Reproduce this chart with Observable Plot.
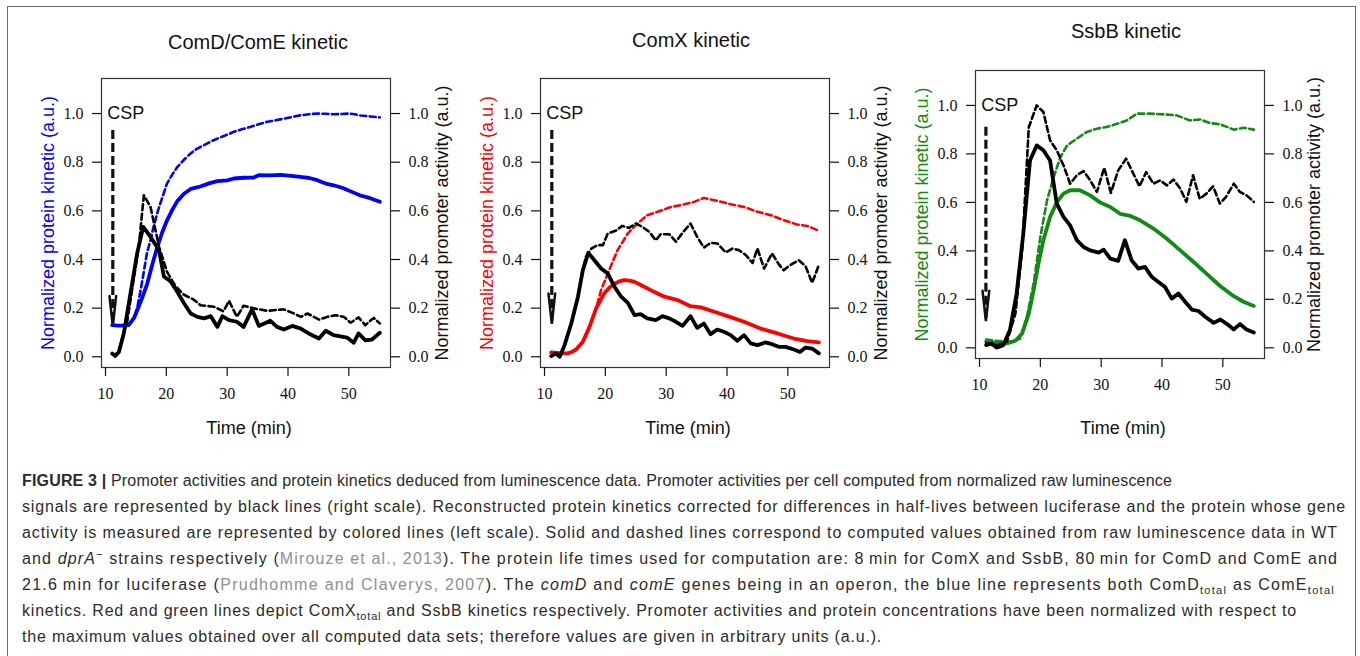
<!DOCTYPE html>
<html><head><meta charset="utf-8">
<script src="https://cdn.jsdelivr.net/npm/d3@7"></script>
<script src="https://cdn.jsdelivr.net/npm/@observablehq/plot@0.6"></script>
<style>
body{margin:0;background:#fff;width:1360px;height:656px;overflow:hidden;position:relative;font-family:"Liberation Sans",Arial,sans-serif;}
#frame{position:absolute;left:7px;top:6px;width:1349px;height:720px;border:1.5px solid #6a6a6a;box-sizing:border-box;}
.title{position:absolute;font-size:20px;color:#111;transform:translate(-50%,-50%);white-space:nowrap;}
.panel{position:absolute;}
#caption{position:absolute;left:22px;top:468px;font-size:16px;line-height:26px;color:#2b2b2b;}
#caption div{white-space:nowrap;height:26px;width:max-content;}
.ref{color:#8f8f8f;}
sub,sup{font-size:11px;line-height:0;}
</style></head><body>
<div id="frame"></div>
<div id="root"></div>
<div id="caption">
<div><b>FIGURE 3 |</b> Promoter activities and protein kinetics deduced from luminescence data. Promoter activities per cell computed from normalized raw luminescence</div>
<div>signals are represented by black lines (right scale). Reconstructed protein kinetics corrected for differences in half-lives between luciferase and the protein whose gene</div>
<div>activity is measured are represented by colored lines (left scale). Solid and dashed lines correspond to computed values obtained from raw luminescence data in WT</div>
<div>and <i>dprA</i><sup>−</sup> strains respectively (<span class="ref">Mirouze et al., 2013</span>). The protein life times used for computation are: 8&#8201;min for ComX and SsbB, 80&#8201;min for ComD and ComE and</div>
<div>21.6&#8201;min for luciferase (<span class="ref">Prudhomme and Claverys, 2007</span>). The <i>comD</i> and <i>comE</i> genes being in an operon, the blue line represents both ComD<sub>total</sub> as ComE<sub>total</sub></div>
<div>kinetics. Red and green lines depict ComX<sub>total</sub> and SsbB kinetics respectively. Promoter activities and protein concentrations have been normalized with respect to</div>
<div>the maximum values obtained over all computed data sets; therefore values are given in arbitrary units (a.u.).</div>
</div>
<script>
// ---------- data ([time (min), value]) ----------
const panelTitles = ["ComD/ComE kinetic", "ComX kinetic", "SsbB kinetic"];
const proteinColors = ["#0000ff", "#ff0000", "#138a13"];
const xTicks = [10, 20, 30, 40, 50];
const yTicks = [0, 0.2, 0.4, 0.6, 0.8, 1.0];
const leftLabel = "Normalized protein kinetic (a.u.)";
const rightLabel = "Normalized promoter activity (a.u.)";
const xLabel = "Time (min)";
const cspText = "CSP";

// ComD/ComE panel
const comD_protein_WT = [[11.1,0.13],[12,0.128],[13,0.128],[13.8,0.13],[14.7,0.16],[15.2,0.19],[16,0.24],[16.85,0.30],[17.7,0.38],[18.5,0.45],[19.3,0.51],[20.1,0.56],[21,0.605],[21.8,0.64],[22.9,0.67],[24,0.69],[25.6,0.70],[27,0.713],[28.4,0.722],[30,0.725],[31.1,0.733],[32.7,0.736],[34.4,0.737],[35.2,0.747],[37,0.746],[38.8,0.748],[40.5,0.744],[42,0.74],[43.5,0.735],[44.8,0.726],[46.2,0.712],[47.5,0.705],[49,0.694],[50.3,0.68],[51.9,0.663],[53.5,0.652],[55.1,0.637]];
const comD_protein_dprA = [[11.1,0.13],[12,0.128],[13,0.128],[13.8,0.13],[14.7,0.16],[15.2,0.2],[15.75,0.27],[16.3,0.35],[16.8,0.425],[17.4,0.48],[17.9,0.534],[18.5,0.59],[19,0.63],[20.1,0.712],[21,0.75],[21.8,0.78],[22.9,0.81],[24,0.836],[25,0.855],[26.2,0.87],[27.3,0.885],[28.4,0.897],[29.7,0.91],[31.1,0.925],[32.4,0.935],[33.8,0.945],[35.2,0.956],[36.6,0.966],[38,0.972],[39.3,0.979],[40.7,0.986],[42.1,0.993],[43.5,0.997],[44.8,1.0],[46.2,0.999],[47.5,0.997],[48.8,0.998],[50,1.0],[51,0.997],[51.9,0.992],[53.5,0.988],[55.1,0.984]];
const comD_promoter_WT = [[11.1,0.014],[11.6,0.003],[12.2,0.02],[13,0.096],[14.1,0.26],[15.2,0.425],[16.2,0.534],[17.4,0.493],[18.8,0.438],[19.6,0.33],[20.7,0.31],[21.8,0.267],[22.9,0.22],[24,0.178],[25.1,0.164],[26.2,0.158],[27.3,0.167],[28.4,0.123],[29.2,0.167],[30.3,0.151],[31.6,0.144],[32.7,0.123],[34.1,0.195],[35.2,0.127],[37.1,0.148],[38.2,0.123],[39.3,0.112],[40.7,0.127],[42.1,0.116],[43.4,0.096],[45.1,0.075],[46.2,0.107],[47.5,0.089],[49.7,0.079],[50.8,0.058],[51.6,0.096],[52.7,0.068],[53.8,0.071],[55.1,0.099]];
const comD_promoter_dprA = [[11.1,0.01],[11.6,0.005],[12.2,0.027],[13.6,0.15],[14.7,0.33],[15.5,0.46],[16.3,0.664],[17.4,0.616],[18.8,0.452],[20.1,0.35],[21.5,0.29],[22.9,0.255],[24.5,0.235],[25.6,0.212],[27.8,0.206],[29.4,0.187],[30.3,0.23],[31.6,0.164],[32.7,0.21],[34.4,0.199],[36.6,0.189],[39.3,0.195],[41,0.178],[42.1,0.164],[43.2,0.178],[45.1,0.153],[46.4,0.164],[47.8,0.171],[49.2,0.164],[50.3,0.14],[51.6,0.162],[52.7,0.13],[54.1,0.16],[55.1,0.137]];

// ComX panel
const comX_protein_WT = [[11.1,0.018],[12,0.016],[13,0.014],[13.8,0.014],[14.5,0.02],[15.2,0.03],[16.3,0.062],[17.4,0.123],[18.5,0.2],[19.8,0.26],[20.7,0.285],[21.5,0.30],[22.3,0.31],[23.1,0.315],[24,0.313],[24.8,0.308],[26.4,0.288],[28,0.267],[29.7,0.247],[31.9,0.233],[34,0.208],[35.7,0.203],[37.9,0.185],[40.1,0.167],[42.8,0.144],[45.5,0.116],[48.3,0.096],[51,0.075],[53.2,0.064],[55.1,0.059]];
const comX_protein_dprA = [[11.1,0.018],[12,0.016],[13,0.014],[13.8,0.014],[14.5,0.02],[15.2,0.03],[16.3,0.062],[17.4,0.123],[18.5,0.2],[19.3,0.274],[20.4,0.342],[22,0.438],[23.7,0.507],[25.3,0.548],[26.9,0.582],[28.6,0.596],[30.8,0.616],[32.4,0.623],[34.6,0.637],[36.2,0.653],[38.4,0.641],[40.6,0.627],[42.8,0.616],[45,0.596],[47.2,0.582],[49.3,0.562],[51.5,0.544],[53.2,0.538],[55.1,0.518]];
const comX_promoter_WT = [[11.1,0.003],[11.9,0.014],[12.5,0.0],[13.3,0.048],[14.4,0.137],[15.5,0.247],[16.3,0.356],[17.2,0.427],[18.2,0.397],[19.3,0.363],[20.4,0.342],[21.5,0.288],[22.6,0.247],[23.7,0.222],[24.8,0.171],[25.8,0.175],[26.9,0.158],[28.3,0.151],[29.4,0.167],[30.5,0.158],[31.6,0.144],[32.7,0.127],[34,0.167],[35.1,0.119],[36.2,0.137],[37.3,0.093],[38.4,0.112],[39.5,0.103],[40.6,0.089],[41.7,0.066],[42.8,0.089],[43.9,0.055],[45,0.048],[46.3,0.059],[47.4,0.052],[48.5,0.041],[49.6,0.041],[51,0.03],[52,0.02],[52.9,0.038],[54,0.034],[55.1,0.014]];
const comX_promoter_dprA = [[11.1,0.003],[11.9,0.014],[12.5,0.0],[13.3,0.048],[14.4,0.137],[15.5,0.247],[16.3,0.356],[16.8,0.41],[17.7,0.445],[18.7,0.459],[19.6,0.459],[20.4,0.507],[21.7,0.518],[22.8,0.538],[23.9,0.53],[25,0.548],[26.1,0.534],[27.2,0.514],[28.3,0.479],[29.1,0.504],[30.5,0.504],[31.6,0.473],[32.7,0.51],[34,0.548],[35.1,0.493],[36.2,0.449],[37.3,0.468],[38.4,0.466],[39.8,0.429],[40.9,0.445],[42,0.438],[43.1,0.418],[44.2,0.386],[45,0.445],[46.1,0.363],[47.4,0.425],[48.5,0.381],[49.3,0.356],[50.4,0.377],[51.8,0.397],[52.9,0.373],[54,0.304],[55.1,0.377]];

// SsbB panel
const ssbB_protein_WT = [[11.1,0.027],[12,0.022],[12.8,0.018],[14.5,0.018],[15.9,0.029],[17,0.059],[18.1,0.141],[18.9,0.238],[19.7,0.348],[20.5,0.444],[21.6,0.54],[22.7,0.6],[23.8,0.636],[24.9,0.65],[26.5,0.65],[28.2,0.629],[29.8,0.6],[31.5,0.581],[33.1,0.553],[34.8,0.544],[36.4,0.526],[38.6,0.492],[40.8,0.45],[43,0.402],[45.2,0.354],[47.4,0.304],[49.6,0.254],[51.8,0.213],[53.4,0.19],[55.1,0.173]];
const ssbB_protein_dprA = [[11.1,0.034],[12.8,0.029],[15,0.025],[16.7,0.038],[17.8,0.128],[18.9,0.265],[20,0.457],[21.1,0.608],[22.2,0.705],[23.3,0.787],[24.4,0.835],[26,0.863],[27.6,0.89],[29.3,0.904],[30.9,0.911],[32.6,0.924],[34.2,0.938],[35.9,0.966],[38.1,0.966],[40.2,0.963],[42.4,0.959],[44.6,0.938],[46.3,0.942],[47.9,0.927],[49.6,0.922],[51.8,0.9],[53.4,0.908],[55.1,0.9]];
const ssbB_promoter_WT = [[11.1,0.011],[12,0.018],[12.8,0.001],[13.9,0.011],[15,0.073],[16.1,0.224],[17.2,0.471],[18.3,0.773],[19.4,0.835],[20.5,0.815],[21.6,0.773],[22.7,0.595],[23.8,0.54],[24.9,0.505],[26,0.444],[27.1,0.416],[28.2,0.402],[29.6,0.393],[30.4,0.405],[31.5,0.368],[32.8,0.359],[33.9,0.444],[35,0.361],[36.1,0.327],[37.2,0.334],[38.3,0.293],[39.4,0.272],[40.5,0.251],[41.6,0.203],[42.7,0.224],[43.8,0.19],[44.9,0.158],[46,0.152],[47.1,0.128],[48.5,0.103],[49.6,0.117],[50.7,0.098],[51.8,0.076],[52.8,0.098],[53.9,0.076],[55.1,0.063]];
const ssbB_promoter_dprA = [[11.1,0.02],[12,0.012],[12.8,0.011],[14.5,0.025],[15.9,0.141],[17,0.402],[18.1,0.91],[19.4,1.0],[20.5,0.973],[21.6,0.856],[22.7,0.815],[23.8,0.753],[24.9,0.677],[26,0.712],[27.1,0.729],[28.2,0.691],[29.3,0.643],[30.5,0.743],[31.6,0.639],[32.8,0.732],[34.1,0.78],[35.3,0.718],[36.3,0.666],[37.4,0.725],[38.6,0.677],[39.7,0.691],[40.8,0.67],[41.9,0.694],[43,0.657],[44,0.602],[45.1,0.712],[46.2,0.615],[47.3,0.636],[48.4,0.666],[49.5,0.595],[50.5,0.622],[51.8,0.677],[52.8,0.643],[53.9,0.629],[55.1,0.602]];

// CSP arrow annotation: time, top of shaft, tip
const cspTime = [11.2, 11.2, 11.05];
const cspTop = [0.93, 0.93, 0.91];
const cspTip = [0.125, 0.135, 0.11];
const cspLabelX = 10.3, cspLabelY = 1.0;

// caption line right ends (px)
const captionEnds = [1172, 1346, 1338, 1338, 1335, 1297, 882];

// ---------- layout ----------
const xDomain = [9.34, 56.85], yDomain = [-0.044, 1.144];
const layouts = [
  {left: 0, top: 50, width: 465, height: 397, ml: 101, mr: 75, mt: 28, mb: 80, timeDy: 66, rdx: 52, tx: 258, ty: 42},
  {left: 465, top: 50, width: 440, height: 397, ml: 75, mr: 76, mt: 28, mb: 80, timeDy: 66, rdx: 52, tx: 691, ty: 40},
  {left: 905, top: 50, width: 455, height: 388, ml: 70, mr: 96, mt: 20, mb: 80, timeDy: 75, rdx: 50, tx: 1126, ty: 31}
];
const panelData = [
  [comD_protein_WT, comD_protein_dprA, comD_promoter_WT, comD_promoter_dprA],
  [comX_protein_WT, comX_protein_dprA, comX_promoter_WT, comX_promoter_dprA],
  [ssbB_protein_WT, ssbB_protein_dprA, ssbB_promoter_WT, ssbB_promoter_dprA]
];

const sans = "Liberation Sans, Arial, sans-serif";
const root = document.getElementById("root");
const headLen = 0.125, headHalf = 0.55;

layouts.forEach((L, i) => {
  const [pWT, pD, aWT, aD] = panelData[i];
  const color = proteinColors[i];
  const t = cspTime[i], tip = cspTip[i];
  const head = [[t - headHalf, tip + headLen], [t, tip], [t + headHalf, tip + headLen]];
  const lineOpts = {x: d => d[0], y: d => d[1], strokeLinejoin: "round"};
  const chart = Plot.plot({
    width: L.width, height: L.height,
    marginLeft: L.ml, marginRight: L.mr, marginTop: L.mt, marginBottom: L.mb,
    style: {background: "transparent", overflow: "visible", fontFamily: "Liberation Serif, serif", fontSize: "16px", color: "#111"},
    x: {domain: xDomain},
    y: {domain: yDomain},
    marks: [
      Plot.frame({stroke: "#333", strokeWidth: 1.2}),
      Plot.axisX({ticks: xTicks, tickSize: 9, tickPadding: 11, tickFormat: d => String(d), label: null, strokeWidth: 1.2}),
      Plot.axisY({anchor: "left", ticks: yTicks, tickSize: 9, tickPadding: 9, tickFormat: d3.format(".1f"), label: null, strokeWidth: 1.2}),
      Plot.axisY({anchor: "right", ticks: yTicks, tickSize: 9, tickPadding: 9, tickFormat: d3.format(".1f"), label: null, strokeWidth: 1.2}),
      Plot.text([leftLabel], {text: d => d, frameAnchor: "left", textAnchor: "middle", lineAnchor: "middle", dx: -53, rotate: -90, fill: color, fontSize: 18, fontFamily: sans}),
      Plot.text([rightLabel], {text: d => d, frameAnchor: "right", textAnchor: "middle", lineAnchor: "middle", dx: L.rdx, rotate: -90, fill: "#111", fontSize: 18, fontFamily: sans}),
      Plot.text([xLabel], {text: d => d, frameAnchor: "bottom", dy: L.timeDy, dx: 3, fill: "#111", fontSize: 18, fontFamily: sans}),
      // CSP annotation
      Plot.text([cspText], {text: d => d, x: () => cspLabelX, y: () => cspLabelY, textAnchor: "start", fill: "#111", fontSize: 18, fontFamily: sans}),
      Plot.ruleX([t], {x: d => d, y1: () => cspTop[i], y2: () => tip, stroke: "#111", strokeWidth: 3.2, strokeDasharray: "9,4"}),
      Plot.line(head, {x: d => d[0], y: d => d[1], stroke: "#111", strokeWidth: 2.5, strokeLinejoin: "miter"}),
      // protein kinetics (left scale)
      Plot.line(pD, {...lineOpts, stroke: color, strokeWidth: 2.6, strokeDasharray: "6,3.5"}),
      Plot.line(pWT, {...lineOpts, stroke: color, strokeWidth: 3.8}),
      // promoter activity (right scale)
      Plot.line(aD, {...lineOpts, stroke: "#000", strokeWidth: 2.6, strokeDasharray: "6,3.5"}),
      Plot.line(aWT, {...lineOpts, stroke: "#000", strokeWidth: 3.8})
    ]
  });
  const wrap = document.createElement("div");
  wrap.className = "panel";
  wrap.style.left = L.left + "px";
  wrap.style.top = L.top + "px";
  wrap.appendChild(chart);
  root.appendChild(wrap);
  const title = document.createElement("div");
  title.className = "title";
  title.style.left = L.tx + "px";
  title.style.top = L.ty + "px";
  title.textContent = panelTitles[i];
  root.appendChild(title);
});

// fit each caption line to the reference line length
document.querySelectorAll("#caption div").forEach((el, i) => {
  const w = el.getBoundingClientRect().width;
  const n = el.textContent.length;
  const target = captionEnds[i] - 22;
  el.style.letterSpacing = ((target - w) / n).toFixed(3) + "px";
});
</script>
</body></html>
